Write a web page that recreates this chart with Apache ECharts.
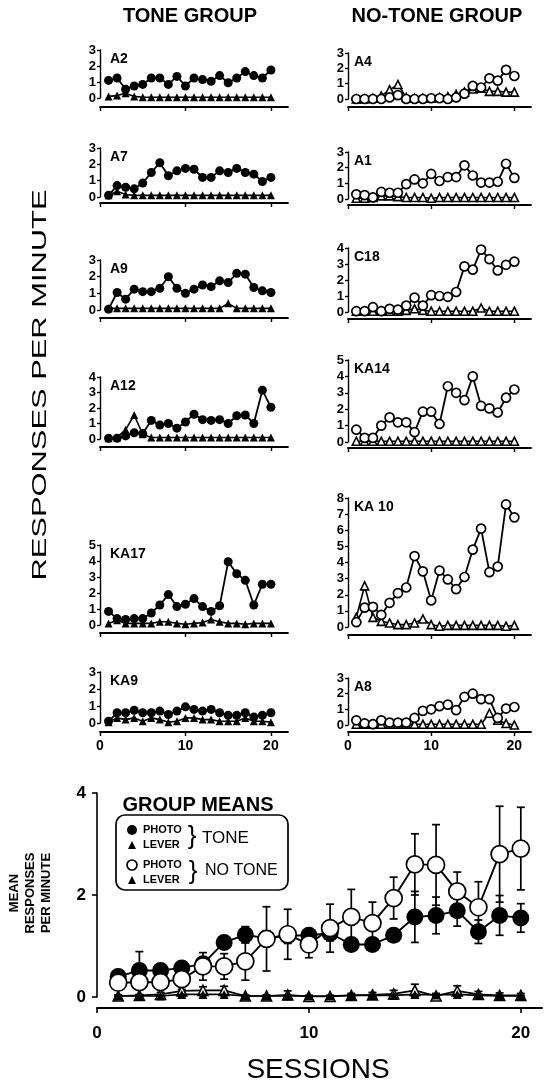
<!DOCTYPE html>
<html>
<head>
<meta charset="utf-8">
<script src="https://cdn.jsdelivr.net/npm/echarts@6/dist/echarts.min.js"></script>
<style>html,body{margin:0;padding:0;background:#fff;}#c{width:544px;height:1086px;}</style>
</head>
<body>
<div id="c"></div>
<script>
// ---------------- DATA ----------------
const sessions = [1,2,3,4,5,6,7,8,9,10,11,12,13,14,15,16,17,18,19,20];
const xTickValues = [0,10,20];

const toneNames = ['A2','A7','A9','A12','KA17','KA9'];
const noToneNames = ['A4','A1','C18','KA14','KA 10','A8'];
const toneYMax = [3,3,3,4,5,3];
const noToneYMax = [3,3,4,5,8,3];

// Tone group (filled circles = photo, filled triangles = lever)
const A2_photo  = [1.1,1.25,0.55,0.75,0.85,1.25,1.25,0.85,1.35,0.75,1.25,1.15,1.05,1.4,0.95,1.25,1.65,1.4,1.25,1.75];
const A2_lever  = [0.1,0.15,0.3,0.1,0.05,0.05,0.05,0.05,0.05,0.05,0.05,0.05,0.05,0.05,0.05,0.05,0.05,0.05,0.05,0.05];
const A7_photo  = [0.1,0.7,0.6,0.5,0.85,1.5,2.1,1.3,1.6,1.75,1.7,1.2,1.2,1.6,1.5,1.75,1.5,1.4,0.95,1.2];
const A7_lever  = [0.1,0.35,0.15,0.1,0.1,0.1,0.1,0.1,0.1,0.1,0.1,0.1,0.1,0.1,0.1,0.1,0.1,0.1,0.1,0.1];
const A9_photo  = [0.05,1.05,0.65,1.25,1.1,1.1,1.3,2.0,1.3,1.0,1.25,1.5,1.4,1.75,1.65,2.2,2.15,1.35,1.15,1.05];
const A9_lever  = [0.1,0.1,0.1,0.1,0.1,0.1,0.1,0.1,0.1,0.1,0.1,0.1,0.1,0.1,0.4,0.1,0.1,0.1,0.1,0.1];
const A12_photo = [0.05,0.05,0.2,0.4,0.35,1.2,0.9,1.0,0.7,1.1,1.6,1.25,1.2,1.25,1.0,1.5,1.55,1.0,3.15,2.05];
const A12_lever = [0.05,0.1,0.6,1.55,0.3,0.1,0.1,0.1,0.1,0.1,0.1,0.1,0.1,0.1,0.1,0.1,0.1,0.1,0.1,0.1];
const KA17_photo= [0.85,0.4,0.35,0.4,0.4,0.75,1.25,1.9,1.15,1.3,1.65,1.15,0.85,1.2,3.95,3.2,2.8,1.25,2.55,2.55];
const KA17_lever= [0.1,0.3,0.1,0.1,0.1,0.1,0.2,0.2,0.1,0.05,0.1,0.15,0.35,0.2,0.1,0.1,0.05,0.1,0.1,0.1];
const KA9_photo = [0.1,0.6,0.6,0.75,0.6,0.6,0.7,0.5,0.7,0.95,0.8,0.7,0.8,0.6,0.45,0.45,0.6,0.35,0.45,0.6];
const KA9_lever = [0.05,0.3,0.2,0.3,0.1,0.3,0.2,0.05,0.1,0.3,0.3,0.2,0.2,0.1,0.1,0.1,0.3,0.1,0.1,0.05];

// No-tone group (open circles = photo, triangles = lever)
const A4_photo  = [0,0,0,0,0.1,0.25,0,0,0,0.05,0.05,0,0.1,0.35,0.85,0.75,1.35,1.2,1.9,1.5];
const A4_lever  = [0,0,0.05,0.2,0.6,0.95,0.1,0.05,0.05,0.05,0.1,0.15,0.3,0.45,0.65,0.7,0.5,0.5,0.45,0.45];
const A1_photo  = [0.3,0.25,0.1,0.45,0.4,0.4,0.95,1.25,1.0,1.6,1.15,1.4,1.4,2.15,1.5,1.05,1.05,1.1,2.25,1.35];
const A1_lever  = [0.05,0.05,0.1,0.2,0.2,0.15,0.1,0.1,0.1,0.05,0.1,0.1,0.1,0.1,0.1,0.1,0.1,0.1,0.1,0.1];
const C18_photo = [0.05,0.05,0.3,0.05,0.2,0.15,0.4,0.9,0.4,1.05,1.0,0.95,1.25,2.85,2.65,3.9,3.3,2.6,2.95,3.15];
const C18_lever = [0.05,0.05,0.05,0.05,0.05,0.05,0.1,0.2,0.1,0.05,0.05,0.05,0.05,0.05,0.05,0.25,0.05,0.05,0.05,0.05];
const KA14_photo= [0.75,0.25,0.25,1.0,1.5,1.2,1.2,0.6,1.85,1.85,1.1,3.4,3.0,2.55,4.0,2.2,2.05,1.8,2.7,3.2];
const KA14_lever= [0.05,0.05,0.05,0.05,0.05,0.05,0.05,0.05,0.05,0.05,0.05,0.05,0.05,0.05,0.05,0.05,0.05,0.05,0.05,0.05];
const KA10_photo= [0.3,1.2,1.25,0.75,1.5,2.1,2.45,4.4,3.45,1.65,3.5,2.95,2.35,3.1,4.8,6.1,3.4,3.75,7.6,6.8];
const KA10_lever= [0.6,2.55,0.6,0.35,0.25,0.15,0.15,0.25,0.5,0.15,0.05,0.1,0.1,0.1,0.1,0.1,0.1,0.1,0.05,0.1];
const A8_photo  = [0.3,0.1,0.05,0.3,0.15,0.15,0.15,0.45,0.9,1.0,1.2,1.3,0.95,1.8,2.0,1.65,1.65,0.45,1.05,1.15];
const A8_lever  = [0.05,0.05,0.05,0.05,0.05,0.05,0.05,0.05,0.05,0.05,0.05,0.05,0.05,0.05,0.05,0.05,0.75,0.3,0.1,0.0];

// Group means (bottom panel)
const meanYTicks = [0,2,4];
const toneMeanPhoto   = [0.4,0.52,0.52,0.57,0.65,1.07,1.22,1.15,1.2,1.21,1.25,1.03,1.03,1.21,1.57,1.6,1.69,1.28,1.6,1.55];
const toneMeanPhotoSE = [0.13,0.37,0.08,0.08,0.1,0.1,0.16,0.15,0.15,0.1,0.15,0.1,0.1,0.12,0.5,0.36,0.3,0.23,0.39,0.28];
const noToneMeanPhoto   = [0.28,0.29,0.29,0.35,0.6,0.6,0.7,1.14,1.23,1.03,1.35,1.57,1.45,1.94,2.6,2.59,2.07,1.76,2.8,2.91];
const noToneMeanPhotoSE = [0.1,0.25,0.12,0.2,0.27,0.25,0.37,0.63,0.49,0.26,0.47,0.54,0.41,0.41,0.6,0.79,0.38,0.5,0.94,0.81];
const toneMeanLever   = [0.02,0.02,0.02,0.05,0.05,0.05,0.02,0.02,0.02,0.02,0.02,0.03,0.03,0.03,0.05,0.04,0.05,0.03,0.02,0.02];
const toneMeanLeverSE = [0.01,0.01,0.01,0.02,0.02,0.02,0.01,0.01,0.01,0.01,0.01,0.02,0.02,0.02,0.03,0.02,0.03,0.02,0.01,0.01];
const noToneMeanLever   = [0.02,0.03,0.05,0.12,0.13,0.13,0.02,0.02,0.04,0.01,0.01,0.03,0.04,0.06,0.13,0.02,0.12,0.05,0.03,0.03];
const noToneMeanLeverSE = [0.02,0.02,0.04,0.1,0.07,0.08,0.02,0.02,0.08,0.02,0.02,0.04,0.05,0.07,0.12,0.05,0.1,0.06,0.05,0.04];

const tonePhoto = [A2_photo,A7_photo,A9_photo,A12_photo,KA17_photo,KA9_photo];
const toneLever = [A2_lever,A7_lever,A9_lever,A12_lever,KA17_lever,KA9_lever];
const noTonePhoto = [A4_photo,A1_photo,C18_photo,KA14_photo,KA10_photo,A8_photo];
const noToneLever = [A4_lever,A1_lever,C18_lever,KA14_lever,KA10_lever,A8_lever];

// ---------------- LAYOUT ----------------
const FONT = "'Liberation Sans', Arial, Helvetica, sans-serif";
const leftCol  = {left: 100, width: 188, tops: [50,148,260,377,545,672], zeros: [98,197,310,439,625,723], offs: [9,6,8,8,8,9]};
const rightCol = {left: 348, width: 183, tops: [53,152,248,360,498,678], zeros: [99,199,312,442,627,725], offs: [8,6,7,6,8,7]};

const grids = [], xAxes = [], yAxes = [], series = [], graphics = [];
const pair = (ys) => sessions.map((s, i) => [s, ys[i]]);
const triple = (ys, es) => sessions.map((s, i) => [s, ys[i], es[i]]);

function addPanel(col, row, name, ymax, photo, lever, hollow) {
  const gi = grids.length;
  const top = col.tops[row], zero = col.zeros[row];
  grids.push({left: col.left, width: col.width, top: top, height: zero - top});
  const last = row === 5;
  xAxes.push({
    gridIndex: gi, type: 'value', min: 0, max: 22, interval: 10, offset: col.offs[row],
    axisLine: {show: true, onZero: false, lineStyle: {color: '#000', width: 1.8}},
    axisTick: {show: true, length: 4, customValues: xTickValues, lineStyle: {color: '#000', width: 1.4}},
    axisLabel: {show: last, customValues: xTickValues, margin: 7, color: '#000', fontFamily: FONT, fontWeight: 'bold', fontSize: 14},
    splitLine: {show: false}
  });
  yAxes.push({
    gridIndex: gi, type: 'value', min: 0, max: ymax, interval: 1,
    axisLine: {show: true, onZero: false, lineStyle: {color: '#000', width: 1.4}},
    axisTick: {show: true, length: 3, lineStyle: {color: '#000', width: 1.4}},
    axisLabel: {margin: 4, color: '#000', fontFamily: FONT, fontWeight: 'bold', fontSize: 13},
    splitLine: {show: false}
  });
  series.push({
    type: 'line', xAxisIndex: gi, yAxisIndex: gi, data: pair(lever), clip: false,
    symbol: 'triangle', symbolSize: 8, lineStyle: {color: '#000', width: 1.6},
    itemStyle: hollow ? {color: '#fff', borderColor: '#000', borderWidth: 1.6} : {color: '#000', borderColor: '#000', borderWidth: 0},
    z: 2, silent: true, animation: false
  });
  series.push({
    type: 'line', xAxisIndex: gi, yAxisIndex: gi, data: pair(photo), clip: false,
    symbol: 'circle', symbolSize: 9, lineStyle: {color: '#000', width: 1.8},
    itemStyle: hollow ? {color: '#fff', borderColor: '#000', borderWidth: 1.7} : {color: '#000', borderColor: '#000', borderWidth: 0},
    z: 3, silent: true, animation: false
  });
  graphics.push({type: 'text', x: col.left + (hollow ? 6 : 10), y: top + 9, z: 10,
    style: {text: name, font: 'bold 14px ' + FONT, fill: '#000', textVerticalAlign: 'middle'}});
}

for (let r = 0; r < 6; r++) {
  addPanel(leftCol, r, toneNames[r], toneYMax[r], tonePhoto[r], toneLever[r], false);
  addPanel(rightCol, r, noToneNames[r], noToneYMax[r], noTonePhoto[r], noToneLever[r], true);
}

// Bottom group-means panel
const bi = grids.length;
grids.push({left: 97, top: 793, width: 445, height: 204});
xAxes.push({
  gridIndex: bi, type: 'value', min: 0, max: 21, interval: 10, offset: 11,
  axisLine: {show: true, onZero: false, lineStyle: {color: '#000', width: 2}},
  axisTick: {show: true, length: 5, customValues: xTickValues, lineStyle: {color: '#000', width: 1.6}},
  axisLabel: {customValues: xTickValues, margin: 17, color: '#000', fontFamily: FONT, fontWeight: 'bold', fontSize: 17},
  splitLine: {show: false}
});
yAxes.push({
  gridIndex: bi, type: 'value', min: 0, max: 4, interval: 2,
  axisLine: {show: true, onZero: false, lineStyle: {color: '#000', width: 1.6}},
  axisTick: {show: true, length: 5, lineStyle: {color: '#000', width: 1.6}},
  axisLabel: {margin: 11, color: '#000', fontFamily: FONT, fontWeight: 'bold', fontSize: 17},
  splitLine: {show: false}
});

function errorBars(data, z) {
  return {
    type: 'custom', xAxisIndex: bi, yAxisIndex: bi, data: data, z: z, silent: true, animation: false, clip: false,
    renderItem: function (params, api) {
      const x = api.value(0), y = api.value(1), e = api.value(2);
      const t = api.coord([x, y + e]), b = api.coord([x, y - e]);
      const hw = 4, st = {stroke: '#000', lineWidth: 1.7};
      return {type: 'group', children: [
        {type: 'line', shape: {x1: t[0], y1: t[1], x2: b[0], y2: b[1]}, style: st},
        {type: 'line', shape: {x1: t[0] - hw, y1: t[1], x2: t[0] + hw, y2: t[1]}, style: st},
        {type: 'line', shape: {x1: b[0] - hw, y1: b[1], x2: b[0] + hw, y2: b[1]}, style: st}
      ]};
    }
  };
}
series.push(errorBars(triple(toneMeanPhoto, toneMeanPhotoSE), 1));
series.push(errorBars(triple(noToneMeanPhoto, noToneMeanPhotoSE), 1));
series.push(errorBars(triple(toneMeanLever, toneMeanLeverSE), 1));
series.push(errorBars(triple(noToneMeanLever, noToneMeanLeverSE), 1));
series.push({type: 'line', xAxisIndex: bi, yAxisIndex: bi, data: pair(noToneMeanLever), clip: false,
  symbol: 'triangle', symbolSize: 10, lineStyle: {color: '#000', width: 1.7},
  itemStyle: {color: '#fff', borderColor: '#000', borderWidth: 1.6}, z: 2, silent: true, animation: false});
series.push({type: 'line', xAxisIndex: bi, yAxisIndex: bi, data: pair(toneMeanLever), clip: false,
  symbol: 'triangle', symbolSize: 9, lineStyle: {color: '#000', width: 1.7},
  itemStyle: {color: '#000'}, z: 3, silent: true, animation: false});
series.push({type: 'line', xAxisIndex: bi, yAxisIndex: bi, data: pair(toneMeanPhoto), clip: false,
  symbol: 'circle', symbolSize: 17, lineStyle: {color: '#000', width: 1.9},
  itemStyle: {color: '#000'}, z: 4, silent: true, animation: false});
series.push({type: 'line', xAxisIndex: bi, yAxisIndex: bi, data: pair(noToneMeanPhoto), clip: false,
  symbol: 'circle', symbolSize: 17, lineStyle: {color: '#000', width: 1.9},
  itemStyle: {color: '#fff', borderColor: '#000', borderWidth: 1.7}, z: 5, silent: true, animation: false});

// ---------------- TEXT / LEGEND ----------------
const txt = (text, x, y, font, align, extra) => Object.assign({type: 'text', x: x, y: y, z: 20,
  style: {text: text, font: font, fill: '#000', textAlign: align || 'center', textVerticalAlign: 'middle'}}, extra || {});
graphics.push(txt('TONE GROUP', 190, 16, 'bold 20px ' + FONT));
graphics.push(txt('NO-TONE GROUP', 437, 16, 'bold 20px ' + FONT));
graphics.push(txt('RESPONSES PER MINUTE', 40, 385, '21px ' + FONT, 'center', {rotation: Math.PI / 2, scaleX: 1.47}));
graphics.push(txt('', 30, 893, '', 'center', {rotation: Math.PI / 2, style: {text: 'MEAN\nRESPONSES\nPER MINUTE', font: 'bold 13px ' + FONT, fill: '#000', textAlign: 'center', textVerticalAlign: 'middle', lineHeight: 16}}));
graphics.push(txt('SESSIONS', 318, 1070, '28px ' + FONT));
graphics.push(txt('GROUP MEANS', 198, 805, 'bold 20px ' + FONT));
graphics.push({type: 'rect', z: 20, shape: {x: 116, y: 815, width: 172, height: 75, r: 9}, style: {fill: 'none', stroke: '#000', lineWidth: 1.7}});
graphics.push({type: 'circle', z: 20, shape: {cx: 132, cy: 830, r: 5}, style: {fill: '#000'}});
graphics.push({type: 'polygon', z: 20, shape: {points: [[128, 849], [136, 849], [132, 841]]}, style: {fill: '#000'}});
graphics.push({type: 'circle', z: 20, shape: {cx: 132, cy: 865, r: 5}, style: {fill: '#fff', stroke: '#000', lineWidth: 1.7}});
graphics.push({type: 'polygon', z: 20, shape: {points: [[128, 884], [136, 884], [132, 876]]}, style: {fill: '#000'}});
graphics.push(txt('PHOTO', 143, 830, 'bold 11px ' + FONT, 'left'));
graphics.push(txt('LEVER', 143, 845, 'bold 11px ' + FONT, 'left'));
graphics.push(txt('PHOTO', 143, 865, 'bold 11px ' + FONT, 'left'));
graphics.push(txt('LEVER', 143, 880, 'bold 11px ' + FONT, 'left'));
graphics.push(txt('}', 192, 837, '26px ' + FONT));
graphics.push(txt('}', 193, 872, '26px ' + FONT));
graphics.push(txt('TONE', 202, 838, '17px ' + FONT, 'left'));
graphics.push(txt('NO TONE', 205, 871, '16px ' + FONT, 'left'));

const chart = echarts.init(document.getElementById('c'), null, {renderer: 'canvas'});
chart.setOption({
  animation: false,
  backgroundColor: '#fff',
  grid: grids, xAxis: xAxes, yAxis: yAxes, series: series, graphic: graphics
});
</script>
</body>
</html>
